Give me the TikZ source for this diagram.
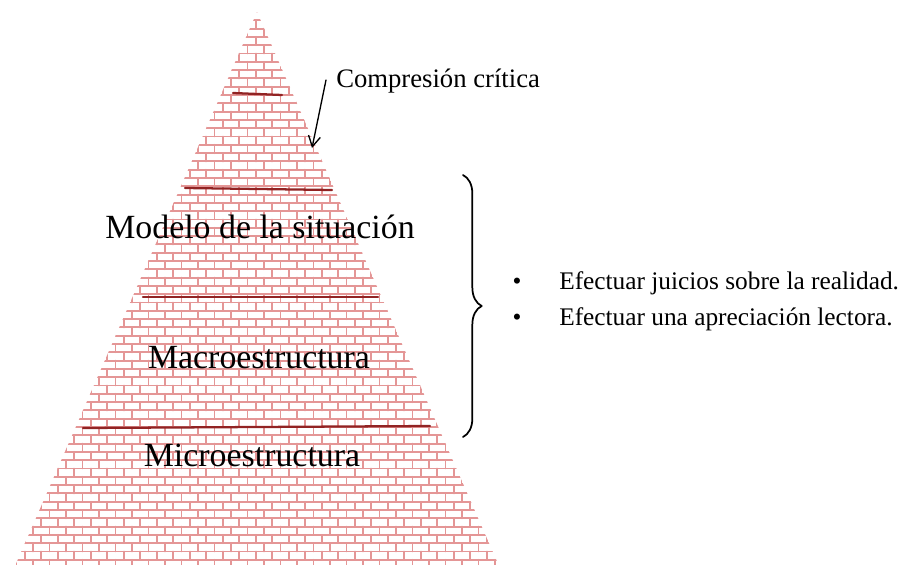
\documentclass[tikz,border=0pt]{standalone}
\usepackage{fontspec}
\setmainfont{Liberation Serif}
\usepackage{tikz}
\usetikzlibrary{decorations.pathreplacing,positioning,arrows.meta}
\tikzset{>=latex}
\usepackage{xcolor}
\definecolor{brickred}{RGB}{228,150,150}
\definecolor{layerred}{RGB}{145,35,35}

\begin{document}
\begin{tikzpicture}[x=0.75pt, y=-0.75pt,
                    line cap=round, line join=round,
                    brick/.style={brickred, line width=1.4pt},
                    layer/.style={layerred, line width=1.7pt},
                    level/.style={font=\fontsize{25.4}{30}\selectfont, anchor=base},
                    note/.style={font=\fontsize{19}{23}\selectfont, anchor=base west, inner sep=0pt},
                    pointer/.style={->, >={Straight Barb[length=8pt,width=9pt]}, line width=1pt}]
  \useasboundingbox (0,0) rectangle (912,564);
  \def\rowH{8.3}
  \def\brickW{16.5}

  % pyramid of bricks
  \coordinate (apex) at (257,12);
  \coordinate (baseL) at (15,566);
  \coordinate (baseR) at (499,566);
  \begin{scope}
    \clip (apex) -- (baseR) -- (baseL) -- cycle;
    \foreach \r in {0,...,67} {
      \pgfmathsetmacro\yy{12+\r*\rowH}
      \pgfmathsetmacro\off{mod(\r,2)*\brickW/2}
      \draw[brick] (0,\yy) -- (520,\yy);
      \foreach \c in {0,...,32}
        \draw[brick] (\c*\brickW+\off,\yy) -- ++(0,\rowH);
    }
  \end{scope}

  % layer borders
  \draw[layer] (233,93) -- (282,95);
  \draw[layer] (185,188) -- (332,190);
  \draw[layer] (143,297) -- (378,297);
  \draw[layer] (83,428) -- (430,426);

  % layer names
  \node[level] (modelo) at (260,238) {Modelo de la situación};
  \node[level] (macro) at (259,368) {Macroestructura};
  \node[level] (micro) at (252,466) {Microestructura};

  % critical comprehension
  \node[note, font=\fontsize{20}{24}\selectfont] (critica) at (336,87) {Compresión crítica};
  \coordinate (tail) at (326,80);
  \coordinate (head) at (312,148);
  \draw[pointer] (tail) -- (head);

  % brace and list
  \coordinate (braceT) at (463,175);
  \coordinate (braceB) at (463,437);
  \draw[line width=1.3pt, decorate, decoration={brace, amplitude=14pt}] (braceT) -- (braceB);
  \node[note, anchor=base] (dot1) at (517,289) {•};
  \node[note] (juicios) at (559,289) {Efectuar juicios sobre la realidad.};
  \node[note, anchor=base] (dot2) at (517,325) {•};
  \node[note] (lectora) at (559,325) {Efectuar una apreciación lectora.};
\end{tikzpicture}
\end{document}
